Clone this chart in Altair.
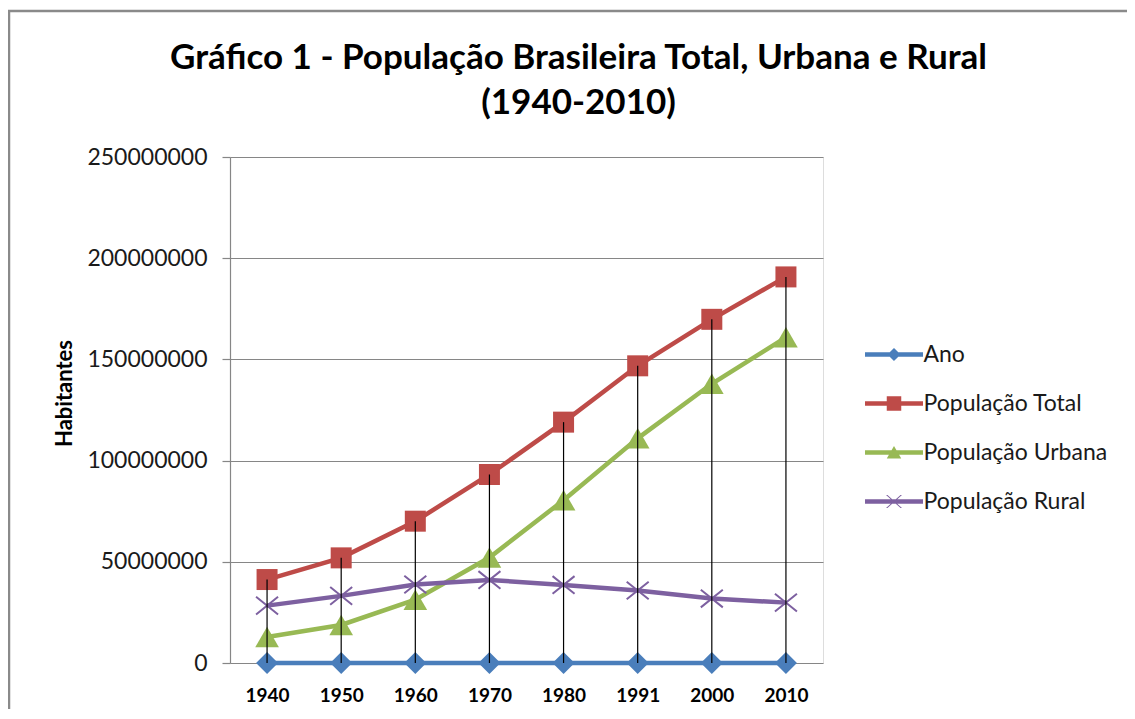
import altair as alt
import pandas as pd

# ---------------- data ----------------
anos = ["1940", "1950", "1960", "1970", "1980", "1991", "2000", "2010"]
ano_valor = [1940, 1950, 1960, 1970, 1980, 1991, 2000, 2010]
pop_total = [41236315, 51944397, 70070457, 93139037, 119002706, 146825475, 169799170, 190755799]
pop_urbana = [12880182, 18782891, 31303034, 52084984, 80436409, 110990990, 137953959, 160925792]
pop_rural = [28356133, 33161506, 38767423, 41054053, 38566297, 35834485, 31845211, 29830007]

series = ["Ano", "População Total", "População Urbana", "População Rural"]
cores = ["#4a7ebb", "#be4b48", "#98b954", "#7d60a0"]
y_ticks = [0, 50000000, 100000000, 150000000, 200000000, 250000000]

rows = []
for nome, vals in zip(series, [ano_valor, pop_total, pop_urbana, pop_rural]):
    for a, v in zip(anos, vals):
        rows.append({"ano": a, "serie": nome, "valor": v})
df = pd.DataFrame(rows)
drop_df = pd.DataFrame({"ano": anos, "topo": pop_total, "base": [0] * len(anos)})

FONT = "Lato"
GRID = "#868686"

x_enc = alt.X(
    "ano:O", sort=anos,
    scale=alt.Scale(type="point", padding=0.5),
    axis=alt.Axis(title=None, labelAngle=0, labelFont=FONT, labelFontWeight="bold",
                  labelFontSize=19, labelColor="#000000", ticks=False, tickSize=0,
                  domain=False, grid=False, labelPadding=23),
)
y_scale = alt.Scale(domain=[0, 250000000], nice=False)
y_enc = alt.Y(
    "valor:Q", scale=y_scale,
    axis=alt.Axis(values=y_ticks, format="d", title="Habitantes", titleFont=FONT,
                  titleFontWeight="bold", titleFontSize=22, titleColor="#000000",
                  titlePadding=10, titleY=236,
                  labelFont=FONT, labelFontSize=23, labelColor="#1a1a1a", labelPadding=15,
                  tickColor=GRID, tickSize=8, tickWidth=1.2, domainColor=GRID, domainWidth=1.2,
                  grid=True, gridColor=GRID, gridWidth=1.2),
)

base = alt.Chart(df)

marker = {
    "Ano": dict(shape="diamond", size=484, filled=True),
    "População Total": dict(shape="square", size=441, filled=True),
    "População Urbana": dict(shape="triangle-up", size=560, filled=True),
    "População Rural": dict(shape="M-1,-0.8L1,0.8M-1,0.8L1,-0.8", size=484, filled=False, strokeWidth=2),
}

layers = []
for nome, cor in zip(series, cores):
    sub = base.transform_filter(alt.datum.serie == nome)
    layers.append(sub.mark_line(color=cor, strokeWidth=4.5).encode(x=x_enc, y=y_enc))
    layers.append(sub.mark_point(color=cor, opacity=1, **marker[nome]).encode(x=x_enc, y=y_enc))

drops = alt.Chart(drop_df).mark_rule(color="#000000", strokeWidth=1.2).encode(
    x=alt.X("ano:O", sort=anos), y=alt.Y("topo:Q"), y2="base:Q"
)

# legend: line with marker symbols (custom paths)
legend_paths = [
    "M-2,-0.16H2V0.16H-2Z M0,-0.45L0.45,0L0,0.45L-0.45,0Z",
    "M-2,-0.16H2V0.16H-2Z M-0.5,-0.5H0.5V0.5H-0.5Z",
    "M-2,-0.16H2V0.16H-2Z M0,-0.45L0.5,0.42L-0.5,0.42Z",
    "M-2,-0.16H2V0.16H-2Z M-0.55,-0.45L-0.45,-0.45L0.55,0.45L0.45,0.45Z M0.45,-0.45L0.55,-0.45L-0.45,0.45L-0.55,0.45Z",
]
leg = alt.Legend(title=None, orient="none", legendX=635, legendY=183, padding=0,
                 labelFont=FONT, labelFontSize=23, labelColor="#1a1a1a", labelLimit=400,
                 symbolSize=841, symbolStrokeWidth=0, symbolOffset=14.5, labelOffset=15,
                 rowPadding=22, symbolOpacity=1)
legend_layer = base.transform_filter("false").mark_point(filled=True, opacity=1).encode(
    color=alt.Color("serie:N", sort=series, scale=alt.Scale(domain=series, range=cores), legend=leg),
    shape=alt.Shape("serie:N", sort=series, scale=alt.Scale(domain=series, range=legend_paths), legend=leg),
)

frame_df = pd.DataFrame({"k": [0]})
frame_top = alt.Chart(frame_df).mark_rule(color="#8a8a8a", strokeWidth=2.5).encode(
    x=alt.value(-222), x2=alt.value(897), y=alt.value(-146)
)
frame_left = alt.Chart(frame_df).mark_rule(color="#8a8a8a", strokeWidth=2.5).encode(
    x=alt.value(-221), y=alt.value(-147), y2=alt.value(560)
)

chart = alt.layer(legend_layer, *layers, drops, frame_top, frame_left).properties(
    width=593, height=506,
    padding={"left": 222, "top": 149, "right": 304, "bottom": 46},
    autosize="none",
    title=alt.TitleParams(
        text=["Gráfico 1 - População Brasileira Total, Urbana e Rural", "(1940-2010)"],
        font=FONT, fontSize=35, fontWeight="bold", color="#000000",
        anchor="middle", frame="group", dx=52, dy=112, lineHeight=45, offset=0,
    ),
).configure_view(stroke=None).configure(background="white")

chart.save("out.html", embed_options={"renderer": "svg", "actions": False})
